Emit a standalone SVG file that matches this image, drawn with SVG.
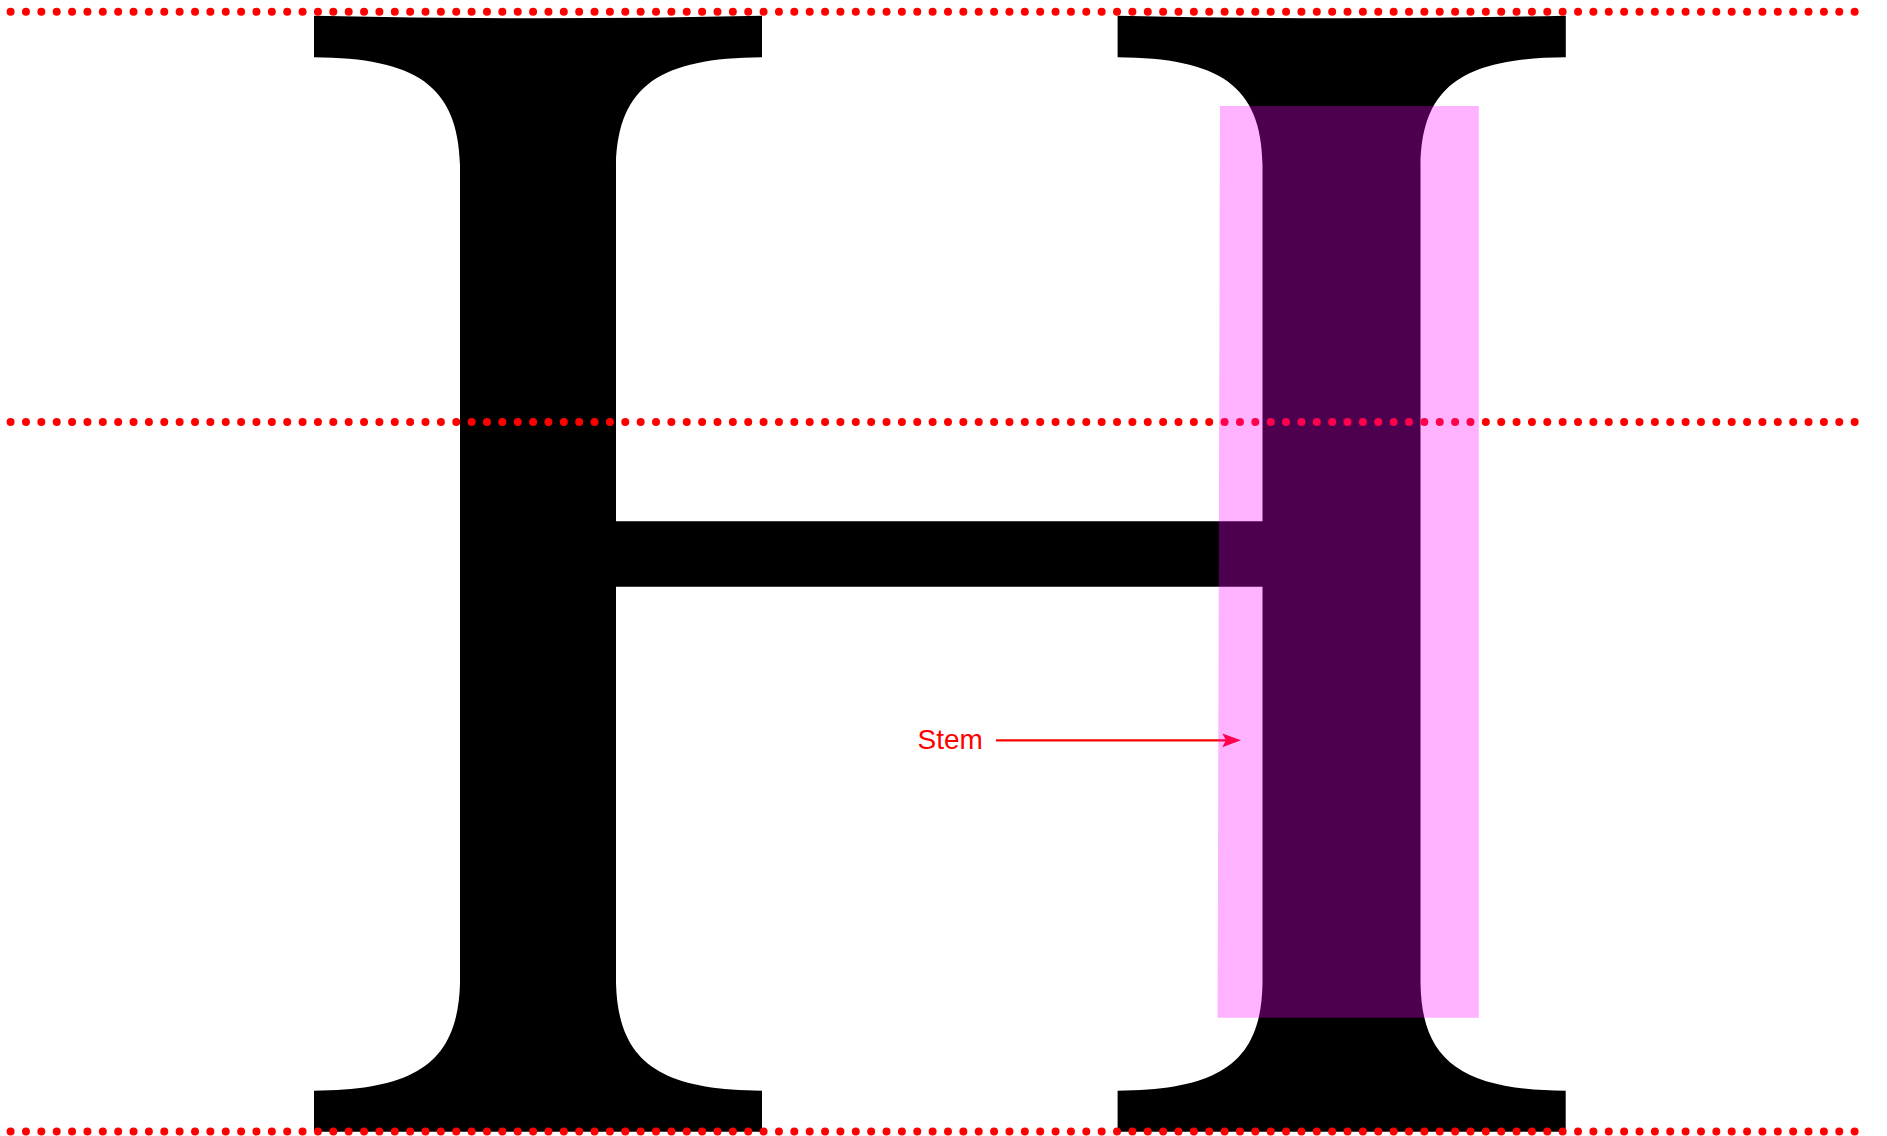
<svg xmlns="http://www.w3.org/2000/svg" width="1887" height="1136" viewBox="0 0 1887 1136">
  <style>
    .guide { stroke: #ff0000; stroke-width: 8; stroke-linecap: round; stroke-dasharray: 0 15.367; fill: none; }
    .glyph { fill: #000000; }
    .highlight { fill: #ff00ff; fill-opacity: 0.3; }
    .label { font-family: "Liberation Sans", Arial, sans-serif; font-size: 28px; fill: #ff0000; }
    .arrow { stroke: #ff0000; stroke-width: 2.2; fill: none; }
    .arrowhead { fill: #ff0000; }
  </style>
  <rect x="0" y="0" width="1887" height="1136" fill="#ffffff"/>
  <g id="glyph-H">
    <path class="glyph" d="M314,15.7 Q538,21 762,15.7 L762,57.3 C661,58 618,85 616,165 L616,521.3 L1262.5,521.3 L1262.5,165 C1261.6,85 1218.6,58 1117.6,57.3 L1117.6,15.7 Q1341.7,21 1565.8,15.7 L1565.8,57.3 C1464.8,58 1421.8,85 1420.5,165 L1420.5,983 C1421.5,1063 1464.6,1090 1565.7,1090.7 L1565.7,1131.7 L1117.6,1131.7 L1117.6,1090.7 C1218.6,1090 1261.5,1063 1262.5,983 L1262.5,586.7 L616,586.7 L616,983 C618,1063 661,1090 762,1090.7 L762,1131.7 L314,1131.7 L314,1090.7 C415,1090 458,1063 460,983 L460,165 C458,85 415,58 314,57.3 Z"/>
  </g>
  <g id="guides">
    <line class="guide" x1="10.6" y1="11.8" x2="1870" y2="11.8"/>
    <line class="guide" x1="10.6" y1="422" x2="1870" y2="422"/>
    <line class="guide" x1="10.6" y1="1131.5" x2="1870" y2="1131.5"/>
  </g>
  <g id="connectors">
    <line class="arrow" x1="996" y1="740.3" x2="1228" y2="740.3"/>
    <path class="arrowhead" d="M1241,740.3 L1222.3,733.4 L1226,740.3 L1222.3,747.2 Z"/>
  </g>
  <g id="label-stem">
    <text class="label" x="917.5" y="748.5">Stem</text>
  </g>
  <g id="stem-highlight">
    <polygon class="highlight" points="1220,106 1478.8,106 1478.8,1017.7 1217.6,1017.7"/>
  </g>
</svg>
